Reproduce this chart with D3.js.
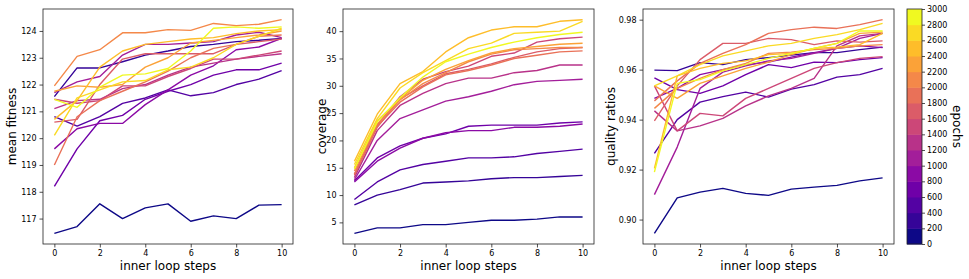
<!DOCTYPE html>
<html>
<head>
<meta charset="utf-8">
<script src="https://cdn.jsdelivr.net/npm/d3@7"></script>
<style>
  body { margin: 0; background: #fff; }
  text { font-family: "DejaVu Sans", sans-serif; fill: #000; }
</style>
</head>
<body>
<div id="chart"></div>
<script>
// Define SVG area dimensions
var svgWidth = 969;
var svgHeight = 279;

// inner loop steps and epochs (one line per epoch)
var steps = [0, 1, 2, 3, 4, 5, 6, 7, 8, 9, 10];
var epochs = [0, 200, 400, 600, 800, 1000, 1200, 1400, 1600, 1800, 2000, 2200, 2400, 2600, 2800];
var colorbarTicks = [0, 200, 400, 600, 800, 1000, 1200, 1400, 1600, 1800, 2000, 2200, 2400, 2600, 2800, 3000];

// mean fitness, one row per epoch
var fitness = [
  [116.45, 116.7, 117.55, 117.0, 117.4, 117.55, 116.9, 117.1, 117.0, 117.5, 117.52],
  [121.55, 122.62, 122.62, 122.85, 123.1, 123.25, 123.42, 123.5, 123.6, 123.65, 123.72],
  [120.8, 120.45, 120.8, 121.3, 121.5, 121.8, 121.58, 121.7, 122.0, 122.2, 122.52],
  [118.2, 119.6, 120.65, 120.85, 121.45, 121.75, 122.0, 122.35, 122.55, 122.55, 122.8],
  [119.6, 120.35, 120.55, 120.55, 121.25, 121.8, 122.35, 122.7, 123.3, 123.4, 123.72],
  [121.7, 122.1, 122.3, 123.1, 123.5, 123.5, 123.55, 123.6, 123.85, 123.95, 123.75],
  [121.1, 121.4, 121.45, 121.85, 122.0, 122.35, 122.65, 122.8, 122.95, 123.05, 123.15],
  [121.45, 121.3, 121.4, 121.95, 121.95, 122.3, 122.6, 122.95, 122.95, 123.1, 123.25],
  [120.6, 120.7, 122.0, 122.95, 123.15, 123.15, 123.15, 123.15, 123.5, 123.6, 123.7],
  [119.0, 120.8, 121.4, 121.75, 122.1, 122.5, 123.0, 123.35, 123.5, 123.8, 123.85],
  [121.95, 123.05, 123.3, 123.93, 123.93, 124.05, 124.02, 124.28, 124.2, 124.25, 124.42],
  [121.75, 121.95, 121.9, 122.0, 122.65, 123.0, 123.55, 123.65, 123.75, 123.85, 124.0],
  [120.7, 121.4, 122.65, 123.25, 123.5, 123.6, 123.7, 123.75, 123.9, 124.0, 124.05],
  [120.1, 121.5, 121.8, 122.1, 122.15, 122.55, 122.65, 123.0, 123.5, 123.8, 124.1],
  [121.45, 121.15, 121.9, 122.35, 122.4, 122.6, 123.25, 124.1, 124.15, 124.1, 124.15]
];

// coverage, one row per epoch
var coverage = [
  [3.0, 4.0, 4.0, 4.6, 4.6, 5.0, 5.4, 5.4, 5.6, 6.0, 6.0],
  [8.2, 10.0, 11.0, 12.2, 12.4, 12.6, 13.0, 13.2, 13.2, 13.4, 13.6],
  [9.2, 12.4, 14.6, 15.6, 16.2, 16.8, 16.8, 17.0, 17.6, 18.0, 18.4],
  [12.6, 16.8, 19.0, 20.4, 21.2, 22.6, 22.8, 22.8, 22.8, 23.2, 23.4],
  [12.4, 16.2, 18.6, 20.4, 21.4, 21.8, 21.8, 22.4, 22.4, 22.6, 23.0],
  [12.8, 20.0, 24.0, 25.6, 27.2, 28.0, 29.0, 30.2, 30.8, 31.0, 31.2],
  [13.2, 21.8, 26.4, 28.6, 30.4, 31.4, 31.4, 32.4, 32.8, 33.8, 33.8],
  [13.8, 22.8, 28.0, 31.2, 32.6, 33.6, 35.4, 36.0, 38.0, 38.6, 38.9],
  [13.6, 22.4, 27.6, 30.0, 32.2, 33.0, 34.0, 35.2, 36.2, 36.8, 37.0],
  [13.8, 22.6, 27.0, 29.8, 32.0, 32.8, 33.8, 35.0, 35.6, 36.2, 36.4],
  [14.4, 23.0, 27.4, 30.4, 32.4, 34.4, 35.8, 36.6, 36.8, 37.0, 37.0],
  [15.0, 23.6, 27.6, 31.0, 33.0, 34.6, 36.0, 36.8, 37.2, 37.6, 37.8],
  [16.2, 24.8, 30.4, 32.6, 36.2, 38.8, 40.2, 40.8, 40.8, 41.8, 42.1],
  [15.6, 24.0, 29.6, 32.4, 34.6, 36.8, 37.8, 39.6, 39.8, 40.0, 41.8],
  [14.8, 23.4, 27.8, 31.6, 34.4, 35.8, 37.0, 38.0, 38.8, 39.4, 39.8]
];

// quality ratios, one row per epoch
var quality = [
  [0.8945, 0.9087, 0.911, 0.9125, 0.9105, 0.9097, 0.9122, 0.913, 0.9137, 0.9155, 0.9167],
  [0.9598, 0.9596, 0.9628, 0.962, 0.964, 0.9648, 0.9658, 0.9668, 0.9668, 0.968, 0.969],
  [0.9265, 0.94, 0.947, 0.9492, 0.951, 0.949, 0.9522, 0.954, 0.957, 0.958, 0.9605],
  [0.9567, 0.952, 0.9505, 0.9535, 0.958, 0.962, 0.9608, 0.963, 0.9628, 0.964, 0.9648],
  [0.9485, 0.9525, 0.958, 0.96, 0.962, 0.963, 0.965, 0.9668, 0.9685, 0.9695, 0.9688],
  [0.910, 0.929, 0.9525, 0.959, 0.9615, 0.9635, 0.9645, 0.9665, 0.9685, 0.9725, 0.9745],
  [0.9435, 0.9355, 0.9375, 0.9405, 0.9455, 0.9495, 0.9525, 0.9565, 0.9695, 0.9735, 0.9745],
  [0.9535, 0.9355, 0.9425, 0.9415, 0.9485, 0.9525, 0.9565, 0.9605, 0.9628, 0.9645, 0.9652],
  [0.9395, 0.9535, 0.964, 0.9705, 0.9705, 0.9725, 0.972, 0.970, 0.9715, 0.971, 0.9715],
  [0.9475, 0.9555, 0.9625, 0.9665, 0.970, 0.9745, 0.976, 0.977, 0.9765, 0.978, 0.980],
  [0.9445, 0.9525, 0.9565, 0.960, 0.9625, 0.9665, 0.967, 0.968, 0.9685, 0.9695, 0.970],
  [0.9535, 0.9485, 0.9545, 0.9575, 0.9605, 0.963, 0.966, 0.9685, 0.9705, 0.9745, 0.975],
  [0.9205, 0.9575, 0.9605, 0.9625, 0.9635, 0.966, 0.9665, 0.9685, 0.969, 0.970, 0.9745],
  [0.9535, 0.9575, 0.962, 0.9655, 0.9675, 0.9695, 0.9705, 0.9725, 0.974, 0.976, 0.9785],
  [0.919, 0.9545, 0.956, 0.9595, 0.962, 0.9645, 0.9665, 0.9685, 0.9705, 0.9755, 0.9755]
];

var fitnessTicks = [117, 118, 119, 120, 121, 122, 123, 124];
var coverageTicks = [5, 10, 15, 20, 25, 30, 35, 40];
var qualityTicks = [0.90, 0.92, 0.94, 0.96, 0.98];
var xTicks = [0, 2, 4, 6, 8, 10];

// discrete plasma colormap, 15 bins of 200 epochs
var nBins = 15;
function epochColor(e) {
  var bin = Math.min(nBins - 1, Math.floor(e / 200));
  return d3.interpolatePlasma(bin / (nBins - 1));
}

var svg = d3.select("#chart")
  .append("svg")
  .attr("width", svgWidth)
  .attr("height", svgHeight);

var plotTop = 9;
var plotBottom = 244;

var panels = [
  { left: 43, right: 293, data: fitness, ticks: fitnessTicks, fmt: d3.format("d"), label: "mean fitness", labelX: 12 },
  { left: 343, right: 594, data: coverage, ticks: coverageTicks, fmt: d3.format("d"), label: "coverage", labelX: 322 },
  { left: 643, right: 894, data: quality, ticks: qualityTicks, fmt: d3.format(".2f"), label: "quality ratios", labelX: 611 }
];

panels.forEach(function(p) {
  var g = svg.append("g");

  var xScale = d3.scaleLinear()
    .domain([-0.5, 10.5])
    .range([p.left, p.right]);

  // matplotlib-like 5% margin around the data
  var allVals = d3.merge(p.data);
  var lo = d3.min(allVals), hi = d3.max(allVals);
  var pad = (hi - lo) * 0.05;
  var yScale = d3.scaleLinear()
    .domain([lo - pad, hi + pad])
    .range([plotBottom, plotTop]);

  var line = d3.line()
    .x((d, i) => xScale(steps[i]))
    .y(d => yScale(d));

  g.selectAll(".series")
    .data(p.data)
    .enter()
    .append("path")
    .attr("d", line)
    .attr("fill", "none")
    .attr("stroke", (d, i) => epochColor(epochs[i]))
    .attr("stroke-width", 1.4)
    .attr("stroke-linejoin", "round");

  // axes
  var bottomAxis = d3.axisBottom(xScale).tickValues(xTicks).tickSize(3.5).tickPadding(3);
  var leftAxis = d3.axisLeft(yScale).tickValues(p.ticks).tickFormat(p.fmt).tickSize(3.5).tickPadding(3);

  var xAxis = g.append("g")
    .attr("transform", `translate(0, ${plotBottom})`)
    .call(bottomAxis);
  var yAxis = g.append("g")
    .attr("transform", `translate(${p.left}, 0)`)
    .call(leftAxis);

  [xAxis, yAxis].forEach(function(ax) {
    ax.select(".domain").remove();
    ax.selectAll("text").style("font-size", "8px").attr("fill", "#000");
    ax.selectAll("line").attr("stroke", "#222").attr("stroke-width", 0.8);
  });

  // frame
  g.append("rect")
    .attr("x", p.left)
    .attr("y", plotTop)
    .attr("width", p.right - p.left)
    .attr("height", plotBottom - plotTop)
    .attr("fill", "none")
    .attr("stroke", "#222")
    .attr("stroke-width", 0.8);

  // axis labels
  g.append("text")
    .attr("x", (p.left + p.right) / 2)
    .attr("y", 270)
    .attr("text-anchor", "middle")
    .style("font-size", "12px")
    .text("inner loop steps");

  g.append("text")
    .attr("transform", `translate(${p.labelX}, ${(plotTop + plotBottom) / 2}) rotate(-90)`)
    .attr("dy", "0.35em")
    .attr("text-anchor", "middle")
    .style("font-size", "12px")
    .text(p.label);
});

// colorbar
var cbLeft = 907, cbWidth = 15;
var cbScale = d3.scaleLinear()
  .domain([0, 3000])
  .range([plotBottom, plotTop]);

var cb = svg.append("g");
cb.selectAll("rect.bin")
  .data(d3.range(nBins))
  .enter()
  .append("rect")
  .attr("x", cbLeft)
  .attr("y", i => cbScale((i + 1) * 200))
  .attr("width", cbWidth)
  .attr("height", i => cbScale(i * 200) - cbScale((i + 1) * 200) + 0.5)
  .attr("fill", i => d3.interpolatePlasma(i / (nBins - 1)));

cb.append("rect")
  .attr("x", cbLeft)
  .attr("y", plotTop)
  .attr("width", cbWidth)
  .attr("height", plotBottom - plotTop)
  .attr("fill", "none")
  .attr("stroke", "#222")
  .attr("stroke-width", 0.8);

var cbAxis = cb.append("g")
  .attr("transform", `translate(${cbLeft + cbWidth}, 0)`)
  .call(d3.axisRight(cbScale).tickValues(colorbarTicks).tickFormat(d3.format("d")).tickSize(3).tickPadding(2));
cbAxis.select(".domain").remove();
cbAxis.selectAll("text").style("font-size", "8px").attr("fill", "#000");
cbAxis.selectAll("line").attr("stroke", "#222").attr("stroke-width", 0.8);

cb.append("text")
  .attr("transform", `translate(957, ${(plotTop + plotBottom) / 2}) rotate(90)`)
  .attr("dy", "0.35em")
  .attr("text-anchor", "middle")
  .style("font-size", "12px")
  .text("epochs");
</script>
</body>
</html>
